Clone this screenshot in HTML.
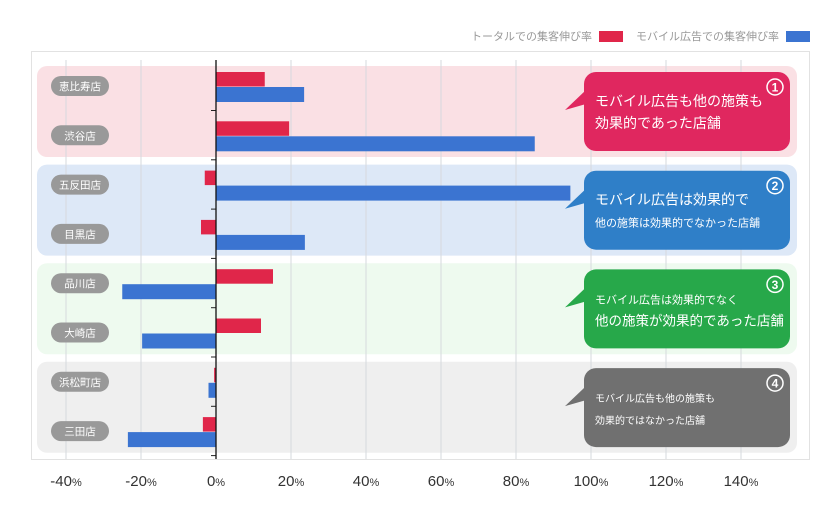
<!DOCTYPE html>
<html><head><meta charset="utf-8"><style>
body{margin:0;background:#fff;font-family:"Liberation Sans","Noto Sans CJK JP",sans-serif}
svg text{font-family:"Liberation Sans","Noto Sans CJK JP",sans-serif}
</style></head><body>
<svg id="c" width="840" height="515" viewBox="0 0 840 515"></svg>
<script>
const categories=["恵比寿店","渋谷店","五反田店","目黒店","品川店","大崎店","浜松町店","三田店"];
const totalGrowth=[13,19.5,-3,-4,15.2,12,-0.5,-3.5];
const mobileGrowth=[23.5,85,94.5,23.7,-25,-19.7,-2,-23.5];
const ticks=[-40,-20,0,20,40,60,80,100,120,140];
const groupTexts=[["モバイル広告も他の施策も","効果的であった店舗"],["モバイル広告は効果的で","他の施策は効果的でなかった店舗"],["モバイル広告は効果的でなく","他の施策が効果的であった店舗"],["モバイル広告も他の施策も","効果的ではなかった店舗"]];
const groupNums=["1","2","3","4"];
const NS="http://www.w3.org/2000/svg";
const svg=document.getElementById('c');
function x(v){return 216+v*3.75;}
function y(i){return 86+i*49.3;}
function mk(t,a,p){const e=document.createElementNS(NS,t);for(const k in a)e.setAttribute(k,a[k]);(p||svg).appendChild(e);return e;}
let f=mk('rect',{x:31.5,y:51.5,width:778,height:408,fill:'#fff',stroke:'#e2e2e2'});


const bgs=['#fae0e4','#dde8f7','#eefaef','#efefef'];
for(let g=0;g<4;g++){
  const r=mk('rect',{x:37,y:y(g*2)-20,width:760,height:91,rx:10,fill:bgs[g]});
  
  
}
ticks.forEach(t=>{
  if(t!==0){
    const l=mk('line',{x1:x(t),x2:x(t),y1:60,y2:459,stroke:'#d6d9de','stroke-width':1});
    
    
  }
  const tx=mk('text',{x:x(t),y:486,'text-anchor':'middle','font-size':15,fill:'#333'});
  tx.appendChild(document.createTextNode(String(t)));
  const ts=mk('tspan',{'font-size':11},tx);ts.textContent='%';
  
  
});
categories.forEach((c,i)=>{
  const cy=y(i);
  const a=totalGrowth[i],b=mobileGrowth[i];
  const r1=mk('rect',{x:Math.min(x(0),x(a)),y:cy-14,width:Math.abs(x(a)-x(0)),height:14.5,fill:'#e0264a'});
  
  
  const r2=mk('rect',{x:Math.min(x(0),x(b)),y:cy+1,width:Math.abs(x(b)-x(0)),height:15,fill:'#3b74d1'});
  
  
  const p=mk('rect',{x:51,y:cy-10,width:58,height:20,rx:10,fill:'#999'});
  
  
  const t=mk('text',{x:80,y:cy+4,'text-anchor':'middle','font-size':10.5,fill:'#fff'});t.textContent=c;
  
  
  const tk=mk('line',{x1:211,x2:216,y1:cy+24.5,y2:cy+24.5,stroke:'#222'});
  
  
});
const ax=mk('line',{x1:x(0),x2:x(0),y1:60,y2:459,stroke:'#111','stroke-width':1.3});


const cc=['#e0275f','#2f7fc8','#27a84a','#707070'];
const fs=[[14,14],[14,11],[11,13.5],[10,10]];
for(let g=0;g<4;g++){
  const top=72+g*98.7;
  const grp=mk('g',{});
  
  
  mk('rect',{x:584,y:top,width:206,height:79,rx:12,fill:cc[g]},grp);
  mk('path',{d:`M586 ${top+18} L565 ${top+38} L586 ${top+32} Z`,fill:cc[g]},grp);
  mk('circle',{cx:775,cy:top+15,r:8,fill:'none',stroke:'#fff','stroke-width':1.5},grp);
  const n=mk('text',{x:775,y:top+19.5,'text-anchor':'middle','font-size':12,'font-weight':'bold',fill:'#fff'},grp);n.textContent=groupNums[g];
  const t1=mk('text',{x:595,y:top+34,'font-size':fs[g][0],fill:'#fff'},grp);t1.textContent=groupTexts[g][0];
  const t2=mk('text',{x:595,y:top+56,'font-size':fs[g][1],fill:'#fff'},grp);t2.textContent=groupTexts[g][1];
}
const l1=mk('text',{x:592,y:40,'text-anchor':'end','font-size':11,fill:'#999'});l1.textContent='トータルでの集客伸び率';


const lr=mk('rect',{x:599,y:31,width:24,height:11,fill:'#e0264a'});


const l2=mk('text',{x:779,y:40,'text-anchor':'end','font-size':11,fill:'#999'});l2.textContent='モバイル広告での集客伸び率';


const lb=mk('rect',{x:786,y:31,width:24,height:11,fill:'#3b74d1'});


</script>
</body></html>
